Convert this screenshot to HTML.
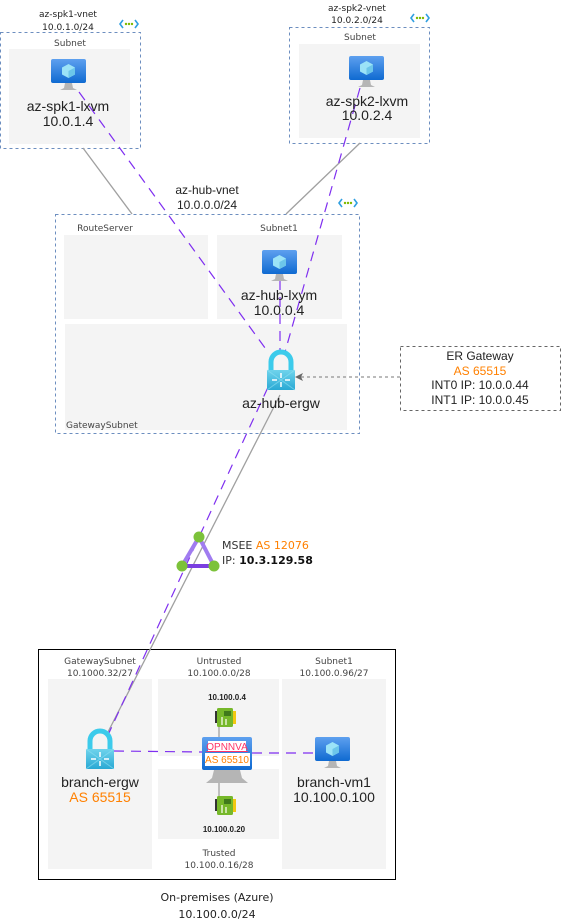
<!DOCTYPE html>
<html><head><meta charset="utf-8"><style>
html,body{margin:0;padding:0;background:#fff;}
svg{display:block;font-family:"Liberation Sans",Arial,sans-serif;}
</style></head><body>
<svg width="561" height="923" viewBox="0 0 561 923" xmlns="http://www.w3.org/2000/svg">
<defs>
<linearGradient id="mon" x1="0" y1="0" x2="0" y2="1"><stop offset="0" stop-color="#5ea0ef"/><stop offset="1" stop-color="#0f6ad1"/></linearGradient>
<linearGradient id="lock" x1="0" y1="0" x2="0" y2="1"><stop offset="0" stop-color="#6fd3ec"/><stop offset="1" stop-color="#29a9d4"/></linearGradient>
<g id="vm">
 <rect x="0" y="0" width="35" height="24" rx="2" fill="url(#mon)"/>
 <polygon points="17.5,5 24,8.5 24,15.5 17.5,19 11,15.5 11,8.5" fill="#9be3f7"/>
 <polygon points="17.5,12 24,8.5 24,15.5 17.5,19" fill="#6cc6ea"/>
 <path d="M14 24 L21 24 L22 29 L26 31 L9 31 L13 29 Z" fill="#b5b5b5"/>
</g>
<g id="lk">
 <path d="M4 19 L4 10 A10 10 0 0 1 24 10 L24 19" fill="none" stroke="#3ccbeb" stroke-width="5"/>
 <rect x="0" y="18" width="28" height="20" rx="1" fill="url(#lock)"/>
 <path d="M0 18 L28 38 M28 18 L0 38" stroke="#8fe0f2" stroke-width="1" opacity="0.6"/>
 <path d="M14 21 L14 26 M14 30 L14 35 M5 28 L10 28 M18 28 L23 28" stroke="#fff" stroke-width="1.5"/>
</g>
<g id="nic">
 <rect x="0" y="3" width="3" height="12" fill="#333"/>
 <rect x="2" y="0" width="16" height="19" rx="1.5" fill="#76b82a"/>
 <rect x="18" y="3" width="3" height="13" fill="#f2c811"/>
 <rect x="9" y="3" width="7" height="5" fill="#3f7a1b"/>
 <path d="M7 9 L7 17 M11 11 L11 17" stroke="#e5f3d0" stroke-width="1.5"/>
</g>
<g id="vnet">
 <path d="M3 0 L0 4 L3 8 M15 0 L18 4 L15 8" fill="none" stroke="#2f9fe0" stroke-width="1.6"/>
 <circle cx="6" cy="4" r="1.2" fill="#7fba00"/><circle cx="9" cy="4" r="1.2" fill="#7fba00"/><circle cx="12" cy="4" r="1.2" fill="#7fba00"/>
</g>
</defs>

<rect x="9" y="49" width="121" height="95" fill="#f4f4f4"/>
<rect x="299" y="44" width="121" height="94" fill="#f4f4f4"/>
<rect x="64" y="235" width="144" height="84" fill="#f4f4f4"/>
<rect x="217" y="235" width="125" height="84" fill="#f4f4f4"/>
<rect x="65" y="324" width="282" height="106" fill="#f4f4f4"/>
<rect x="48" y="679" width="104" height="190" fill="#f4f4f4"/>
<rect x="158" y="679" width="121" height="77" fill="#f4f4f4"/>
<rect x="158" y="769" width="121" height="70" fill="#f4f4f4"/>
<rect x="282" y="679" width="104" height="190" fill="#f4f4f4"/>

<g fill="none" stroke="#6c8ebf" stroke-dasharray="3,3" stroke-width="1">
<rect x="0.5" y="32.5" width="140" height="116"/>
<rect x="289.5" y="27.5" width="140" height="116"/>
<rect x="55.5" y="214.5" width="304" height="219"/>
</g>
<rect x="400.5" y="346.5" width="160" height="64" fill="none" stroke="#666" stroke-dasharray="3,3"/>
<rect x="38.5" y="649.5" width="357" height="230" fill="none" stroke="#000" stroke-width="1"/>

<g stroke="#a0a0a0" stroke-width="1.3" fill="none">
<line x1="83" y1="148" x2="132" y2="214"/>
<line x1="360" y1="143" x2="286" y2="214"/>
<line x1="280" y1="395" x2="108" y2="732"/>
<line x1="219" y1="727" x2="219" y2="737"/>
<line x1="219" y1="783" x2="219" y2="796"/>
</g>
<line x1="400" y1="377" x2="300" y2="377" stroke="#777" stroke-dasharray="3,3"/>
<polygon points="295,377 303,373 301,377 303,381" fill="#666"/>

<g stroke="#7f2ff0" stroke-width="1.2" stroke-dasharray="10,7" fill="none">
<line x1="79" y1="92" x2="268" y2="352"/>
<line x1="360" y1="88" x2="285" y2="352"/>
<line x1="280" y1="280" x2="280" y2="352"/>
<line x1="275" y1="372" x2="108" y2="735"/>
<line x1="114" y1="751" x2="202" y2="752"/>
<line x1="252" y1="753" x2="315" y2="753"/>
</g>

<use href="#vnet" x="120" y="20"/>
<use href="#vnet" x="411" y="14"/>
<use href="#vnet" x="339" y="199"/>
<use href="#vm" x="51" y="59"/>
<use href="#vm" x="349" y="56"/>
<use href="#vm" x="262" y="250"/>
<use href="#vm" x="315" y="737"/>
<use href="#lk" x="267" y="352"/>
<use href="#lk" x="86" y="731"/>
<use href="#nic" x="215" y="708"/>
<use href="#nic" x="215" y="796"/>
<rect x="202" y="737" width="50" height="33" rx="2" fill="url(#mon)"/>
<path d="M214 770 L240 770 L242 778 L248 783 L206 783 L212 778 Z" fill="#b5b5b5"/>
<rect x="208" y="741" width="38" height="11" fill="#fff"/>
<rect x="205" y="753" width="45" height="13" fill="#fff"/>
<text x="227" y="750" font-size="10" text-anchor="middle" fill="#ff3366" text-decoration="underline">OPNNVA</text>
<text x="227" y="763" font-size="10" text-anchor="middle" fill="#ff8000">AS 65510</text>

<polygon points="199,537 182,566 214,566" fill="none" stroke="#a07cf0" stroke-width="4"/>
<line x1="182" y1="566" x2="214" y2="566" stroke="#7a3fe0" stroke-width="4"/>
<circle cx="199" cy="537" r="5.5" fill="#7cc23a"/>
<circle cx="182" cy="566" r="5.5" fill="#7cc23a"/>
<circle cx="214" cy="566" r="5.5" fill="#7cc23a"/>
<text x="222" y="549" font-size="12" fill="#333" font-family="DejaVu Sans, sans-serif" style="font-size:11px">MSEE <tspan fill="#ff8000">AS 12076</tspan></text>
<text x="222" y="564" font-size="11" fill="#333" font-family="DejaVu Sans, sans-serif">IP: <tspan font-weight="bold" fill="#111">10.3.129.58</tspan></text>

<g font-size="9" fill="#222" text-anchor="middle" font-family="DejaVu Sans, sans-serif">
<text x="68" y="17">az-spk1-vnet</text><text x="68" y="30">10.0.1.0/24</text>
<text x="357" y="11">az-spk2-vnet</text><text x="357" y="23">10.0.2.0/24</text>
<text x="70" y="46" fill="#444">Subnet</text>
<text x="360" y="40" fill="#444">Subnet</text>
<text x="105" y="231" fill="#444">RouteServer</text>
<text x="279" y="231" fill="#444">Subnet1</text>
<text x="100" y="664" fill="#444">GatewaySubnet</text><text x="100" y="676" fill="#444">10.1000.32/27</text>
<text x="219" y="664" fill="#444">Untrusted</text><text x="219" y="676" fill="#444">10.100.0.0/28</text>
<text x="334" y="664" fill="#444">Subnet1</text><text x="334" y="676" fill="#444">10.100.0.96/27</text>
<text x="219" y="856" fill="#444">Trusted</text><text x="219" y="868" fill="#444">10.100.0.16/28</text>
</g>
<text x="66" y="428" font-size="9" fill="#444" font-family="DejaVu Sans, sans-serif">GatewaySubnet</text>
<g font-size="8" font-weight="bold" fill="#222" text-anchor="middle">
<text x="227" y="700">10.100.0.4</text>
<text x="224" y="832">10.100.0.20</text>
</g>
<g font-size="12" fill="#222" text-anchor="middle">
<text x="207" y="194">az-hub-vnet</text><text x="207" y="209">10.0.0.0/24</text>
<text x="480" y="360">ER Gateway</text>
<text x="480" y="375" fill="#ff8000">AS 65515</text>
<text x="480" y="389">INT0 IP: 10.0.0.44</text>
<text x="480" y="404">INT1 IP: 10.0.0.45</text>
</g>
<g font-size="11" fill="#222" text-anchor="middle" font-family="DejaVu Sans, sans-serif">
<text x="217" y="901">On-premises (Azure)</text>
<text x="217" y="918">10.100.0.0/24</text>
</g>
<g font-size="14" fill="#222" text-anchor="middle">
<text x="68" y="111">az-spk1-lxvm</text><text x="68" y="126">10.0.1.4</text>
<text x="367" y="106">az-spk2-lxvm</text><text x="367" y="120">10.0.2.4</text>
<text x="279" y="300">az-hub-lxym</text><text x="279" y="315">10.0.0.4</text>
<text x="281" y="408">az-hub-ergw</text>
<text x="100" y="787">branch-ergw</text><text x="100" y="802" fill="#ff8000">AS 65515</text>
<text x="334" y="787">branch-vm1</text><text x="334" y="802">10.100.0.100</text>
</g>
</svg>
</body></html>
